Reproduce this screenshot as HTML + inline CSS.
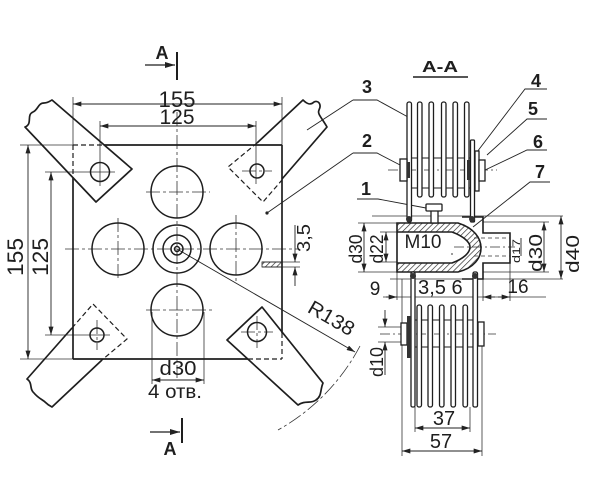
<!DOCTYPE html>
<html><head><meta charset="utf-8">
<style>
html,body{margin:0;padding:0;background:#fff;}
svg{display:block;}
text{font-family:"Liberation Sans","DejaVu Sans",sans-serif;fill:#1e1e1e;}
.b{font-weight:bold;}
</style></head><body>
<svg width="600" height="498" viewBox="0 0 600 498" xmlns="http://www.w3.org/2000/svg">
<defs>
<marker id="ar" viewBox="0 0 10 6" refX="10" refY="3" markerWidth="9" markerHeight="5" markerUnits="userSpaceOnUse" orient="auto-start-reverse"><path d="M0,0 L10,3 L0,6 z" fill="#222"/></marker>
<marker id="arb" viewBox="0 0 10 6" refX="10" refY="3" markerWidth="12" markerHeight="6" markerUnits="userSpaceOnUse" orient="auto-start-reverse"><path d="M0,0 L10,3 L0,6 z" fill="#222"/></marker>
<pattern id="hatch" width="4" height="4" patternUnits="userSpaceOnUse" patternTransform="rotate(45)"><line x1="0" y1="0" x2="0" y2="4" stroke="#222" stroke-width="1.3"/></pattern>
</defs>
<rect width="600" height="498" fill="#fff"/>

<!-- ================= LEFT VIEW ================= -->
<g fill="none" stroke="#333" stroke-width="0.8">
  <line x1="73" y1="97" x2="73" y2="145"/>
  <line x1="282" y1="97" x2="282" y2="145"/>
  <line x1="100" y1="121" x2="100" y2="186"/>
  <line x1="256" y1="121" x2="256" y2="184"/>
  <line x1="20" y1="145" x2="73" y2="145"/>
  <line x1="45" y1="172" x2="115" y2="172"/>
  <line x1="45" y1="335" x2="110" y2="335"/>
  <line x1="20" y1="359" x2="73" y2="359"/>
  <line x1="152" y1="312" x2="152" y2="384"/>
  <line x1="204" y1="312" x2="204" y2="384"/>
  <line x1="262" y1="262" x2="300" y2="262"/>
  <line x1="262" y1="267" x2="300" y2="267"/>
</g>
<g fill="none" stroke="#333" stroke-width="0.8" stroke-dasharray="14 3 3 3">
  <line x1="177" y1="112" x2="177" y2="378"/>
  <line x1="65" y1="249" x2="298" y2="249"/>
  <line x1="146" y1="192" x2="210" y2="192"/>
  <line x1="146" y1="310" x2="212" y2="310"/>
  <line x1="118" y1="218" x2="118" y2="281"/>
  <line x1="236" y1="215" x2="236" y2="284"/>
  <line x1="242" y1="171" x2="272" y2="171"/>
  <line x1="97" y1="320" x2="97" y2="350"/>
  <line x1="241" y1="332" x2="273" y2="332"/>
  <line x1="257" y1="316" x2="257" y2="348"/>
  <path d="M360,346 A207,207 0 0 1 278,430"/>
</g>

<g fill="none" stroke="#1e1e1e" stroke-width="1.7">
  <line x1="104" y1="145" x2="282" y2="145"/>
  <line x1="282" y1="145" x2="282" y2="333"/>
  <line x1="73" y1="178" x2="73" y2="359"/>
  <line x1="73" y1="359" x2="248" y2="359"/>
</g>
<g fill="none" stroke="#1e1e1e" stroke-width="1.2" stroke-dasharray="5 3">
  <line x1="73" y1="145" x2="104" y2="145"/>
  <line x1="73" y1="145" x2="73" y2="178"/>
  <line x1="282" y1="333" x2="282" y2="359"/>
  <line x1="248" y1="359" x2="282" y2="359"/>
  <path d="M257,143 L228,167 L263,202 L282,180"/>
  <path d="M72,328 L93,304 L127,339 L102,360"/>
</g>

<g fill="none" stroke="#1e1e1e" stroke-width="1.7" stroke-linejoin="round">
  <path d="M52,100 L132,169 L96,202 L25,127 C33,124 26,115 33,112 C38,110 38,103 44,103 C48,103 50,101 52,100 Z"/>
  <path d="M257,143 L303,100 C306,103 310,106 314,102 C318,100 322,104 319,110 C317,114 322,118 327,127 L282,179"/>
  <path d="M72,328 L27,379 C33,383 29,389 34,393 C38,398 43,400 45,402 C48,405 50,406 52,407 L102,360"/>
  <path d="M262,307 L323,383 C320,390 322,396 316,400 C311,404 305,400 298,405 L227,340 Z"/>
</g>

<g fill="none" stroke="#1e1e1e" stroke-width="1.5">
  <circle cx="100" cy="172" r="9.5"/>
  <circle cx="257" cy="171" r="7"/>
  <circle cx="97" cy="335" r="7"/>
  <circle cx="257" cy="332" r="9.5"/>
  <circle cx="177" cy="192" r="26"/>
  <circle cx="118" cy="249" r="26"/>
  <circle cx="236" cy="249" r="26"/>
  <circle cx="177" cy="310" r="26"/>
  <circle cx="177" cy="249" r="24"/>
  <circle cx="177" cy="249" r="14"/>
  <circle cx="177" cy="249" r="6"/>
  <circle cx="177" cy="249" r="2.5"/>
</g>
<rect x="262" y="262" width="20" height="5" fill="url(#hatch)" stroke="#222" stroke-width="0.8"/>

<g fill="none" stroke="#222" stroke-width="0.9">
  <line x1="73" y1="104" x2="282" y2="104" marker-start="url(#ar)" marker-end="url(#ar)"/>
  <line x1="100" y1="126" x2="256" y2="126" marker-start="url(#ar)" marker-end="url(#ar)"/>
  <line x1="28" y1="145" x2="28" y2="359" marker-start="url(#ar)" marker-end="url(#ar)"/>
  <line x1="51" y1="172" x2="51" y2="335" marker-start="url(#ar)" marker-end="url(#ar)"/>
  <line x1="152" y1="380" x2="204" y2="380" marker-start="url(#ar)" marker-end="url(#ar)"/>
  <line x1="295" y1="225" x2="295" y2="262" marker-end="url(#ar)"/>
  <line x1="295" y1="286" x2="295" y2="267" marker-end="url(#ar)"/>
  <line x1="177" y1="249" x2="355" y2="352" marker-end="url(#ar)"/>
  <line x1="307" y1="130" x2="353" y2="100"/>
  <line x1="267" y1="213" x2="353" y2="153"/>
</g>
<circle cx="267" cy="213" r="1.6" fill="#222"/>
<text x="177" y="107" font-size="22" text-anchor="middle" textLength="37" lengthAdjust="spacingAndGlyphs">155</text>
<text x="177" y="124" font-size="21" text-anchor="middle" textLength="35" lengthAdjust="spacingAndGlyphs">125</text>
<text transform="translate(23,257) rotate(-90)" font-size="22" text-anchor="middle" textLength="38" lengthAdjust="spacingAndGlyphs">155</text>
<text transform="translate(48,257) rotate(-90)" font-size="22" text-anchor="middle" textLength="38" lengthAdjust="spacingAndGlyphs">125</text>
<text x="178" y="375" font-size="20" text-anchor="middle" textLength="37" lengthAdjust="spacingAndGlyphs">d30</text>
<text x="175" y="398" font-size="19" text-anchor="middle" textLength="54" lengthAdjust="spacingAndGlyphs">4 отв.</text>
<text transform="translate(310,238) rotate(-90)" font-size="18" text-anchor="middle" textLength="28" lengthAdjust="spacingAndGlyphs">3,5</text>
<text transform="translate(328,324) rotate(30)" font-size="20" text-anchor="middle" textLength="50" lengthAdjust="spacingAndGlyphs">R138</text>

<g stroke="#1e1e1e" fill="none">
  <line x1="145" y1="65" x2="175" y2="65" stroke-width="1.2" marker-end="url(#arb)"/>
  <line x1="177" y1="52" x2="177" y2="80" stroke-width="2"/>
  <line x1="150" y1="432" x2="180" y2="432" stroke-width="1.2" marker-end="url(#arb)"/>
  <line x1="182" y1="418" x2="182" y2="443" stroke-width="2"/>
</g>
<text x="162" y="59" font-size="18" class="b" text-anchor="middle">A</text>
<text x="170" y="455" font-size="18" class="b" text-anchor="middle">A</text>

<!-- ================= RIGHT VIEW (A-A) ================= -->
<text x="440" y="72" font-size="16" class="b" text-anchor="middle" textLength="36" lengthAdjust="spacingAndGlyphs">A-A</text>
<line x1="413" y1="77" x2="468" y2="77" stroke="#1e1e1e" stroke-width="1.6"/>

<g font-size="18" class="b" text-anchor="middle">
  <text x="367" y="93" class="b">3</text>
  <text x="367" y="147" class="b">2</text>
  <text x="366" y="195" class="b">1</text>
  <text x="536" y="87" class="b">4</text>
  <text x="533" y="115" class="b">5</text>
  <text x="538" y="148" class="b">6</text>
  <text x="540" y="178" class="b">7</text>
</g>
<g fill="none" stroke="#222" stroke-width="0.9">
  <polyline points="353,100 377,100 408,117"/>
  <polyline points="353,153 377,153 402,166"/>
  <polyline points="357,199 378,199 426,208"/>
  <polyline points="547,89 525,89 477,152"/>
  <polyline points="547,119 527,119 487,155"/>
  <polyline points="547,150 527,150 483,171"/>
  <polyline points="550,182 530,182 473,227"/>
</g>

<g fill="none" stroke="#333" stroke-width="0.8" stroke-dasharray="10 3 2 3">
  <line x1="388" y1="170" x2="497" y2="170"/>
  <line x1="380" y1="334" x2="496" y2="334"/>
  <line x1="400" y1="247" x2="515" y2="247"/>
</g>

<g fill="none" stroke="#333" stroke-width="0.8">
  <line x1="372" y1="216" x2="563" y2="216"/>
  <line x1="390" y1="279" x2="563" y2="279"/>
  <line x1="483" y1="222" x2="549" y2="222"/>
  <line x1="483" y1="272" x2="549" y2="272"/>
  <line x1="358" y1="223" x2="397" y2="223"/>
  <line x1="358" y1="272" x2="397" y2="272"/>
  <line x1="380" y1="232" x2="397" y2="232"/>
  <line x1="380" y1="262" x2="397" y2="262"/>
  <line x1="397" y1="272" x2="397" y2="300"/>
  <line x1="483" y1="279" x2="483" y2="301"/>
  <line x1="510" y1="263" x2="510" y2="301"/>
  <line x1="402" y1="279" x2="402" y2="456"/>
  <line x1="482" y1="345" x2="482" y2="456"/>
  <line x1="415" y1="407" x2="415" y2="432"/>
  <line x1="470" y1="407" x2="470" y2="432"/>
  <line x1="378" y1="327" x2="402" y2="327"/>
  <line x1="378" y1="342" x2="402" y2="342"/>
  <line x1="383" y1="297" x2="546" y2="297"/>
</g>
<g fill="none" stroke="#222" stroke-width="0.9">
  <line x1="364" y1="223" x2="364" y2="272" marker-start="url(#ar)" marker-end="url(#ar)"/>
  <line x1="386" y1="232" x2="386" y2="262" marker-start="url(#ar)" marker-end="url(#ar)"/>
  <line x1="544" y1="222" x2="544" y2="272" marker-start="url(#ar)" marker-end="url(#ar)"/>
  <line x1="561" y1="216" x2="561" y2="279" marker-start="url(#ar)" marker-end="url(#ar)"/>
  <line x1="521" y1="238" x2="521" y2="256"/>
  <line x1="415" y1="428" x2="470" y2="428" marker-start="url(#ar)" marker-end="url(#ar)"/>
  <line x1="402" y1="451" x2="482" y2="451" marker-start="url(#ar)" marker-end="url(#ar)"/>
  <line x1="385" y1="310" x2="385" y2="327" marker-end="url(#ar)"/>
  <line x1="385" y1="375" x2="385" y2="342" marker-end="url(#ar)"/>
  <line x1="386" y1="297" x2="397" y2="297" marker-end="url(#ar)"/>
  <line x1="495" y1="297" x2="483" y2="297" marker-end="url(#ar)"/>
  <line x1="498" y1="297" x2="510" y2="297" marker-end="url(#ar)"/>
  <line x1="450" y1="240" x2="450" y2="254"/>
  <line x1="447" y1="254" x2="453" y2="254"/>
</g>

<path fill="url(#hatch)" fill-rule="evenodd" stroke="none"
  d="M397,223 H458 C474,228 481,238 481,248 C481,258 474,268 458,272 H397 Z M397,232 H452 C463,236 470,242 470,247 C470,253 463,259 452,263 H397 Z"/>
<rect x="399" y="233" width="52" height="28" fill="#fff"/>
<g fill="none" stroke="#1e1e1e" stroke-width="1.6">
  <path d="M397,223 H458 C474,228 481,238 481,248 C481,258 474,268 458,272 H397 Z"/>
  <path d="M397,232 H452 C463,236 470,242 470,247 C470,253 463,259 452,263 H397"/>
  <path d="M462,217 H483 V233 H510 V263 H483 V279 H462"/>
</g>
<g fill="none" stroke="#333" stroke-width="0.8" stroke-dasharray="4 3">
  <line x1="474" y1="238" x2="510" y2="238"/>
  <line x1="474" y1="256" x2="510" y2="256"/>
</g>
<text x="423" y="248" font-size="19" text-anchor="middle" textLength="37" lengthAdjust="spacingAndGlyphs">M10</text>

<g fill="#fff" stroke="#1e1e1e" stroke-width="1.3">
  <rect x="431" y="210" width="7" height="13"/>
  <rect x="426" y="204" width="16" height="7" rx="1"/>
</g>

<g fill="none" stroke="#1e1e1e" stroke-width="1.1">
  <line x1="411" y1="158" x2="470" y2="158"/>
  <line x1="411" y1="188" x2="470" y2="188"/>
</g>
<g fill="#fff" stroke="#1e1e1e" stroke-width="1.3">
  <rect x="407" y="102" width="4.5" height="120" rx="2"/>
  <rect x="417.5" y="102" width="4.5" height="95" rx="2"/>
  <rect x="429" y="102" width="4.5" height="95" rx="2"/>
  <rect x="441.5" y="102" width="4.5" height="95" rx="2"/>
  <rect x="453" y="102" width="4.5" height="95" rx="2"/>
  <rect x="464.5" y="102" width="4.5" height="95" rx="2"/>
  <rect x="470.5" y="140" width="4" height="82" rx="1"/>
  <rect x="400" y="159" width="7" height="22"/>
  <rect x="475" y="151" width="4" height="40"/>
  <rect x="479" y="160" width="6" height="21"/>
</g>
<g fill="#333">
  <ellipse cx="409" cy="219" rx="3" ry="3"/>
  <ellipse cx="472" cy="219" rx="3" ry="3"/>
  <rect x="407" y="162" width="3" height="16"/>
  <rect x="467" y="160" width="3" height="20"/>
</g>

<g fill="none" stroke="#1e1e1e" stroke-width="1.1">
  <line x1="415" y1="320" x2="473" y2="320"/>
  <line x1="415" y1="347" x2="473" y2="347"/>
</g>
<g fill="#fff" stroke="#1e1e1e" stroke-width="1.3">
  <rect x="411" y="272" width="4" height="135" rx="1.5"/>
  <rect x="417" y="305" width="4.5" height="102" rx="2"/>
  <rect x="428" y="305" width="4.5" height="102" rx="2"/>
  <rect x="439.5" y="305" width="4.5" height="102" rx="2"/>
  <rect x="451" y="305" width="4.5" height="102" rx="2"/>
  <rect x="463" y="305" width="4.5" height="102" rx="2"/>
  <rect x="473" y="272" width="4.5" height="135" rx="1.5"/>
  <rect x="401" y="323" width="6" height="22"/>
  <rect x="478" y="322" width="6" height="24"/>
</g>
<g fill="#333">
  <rect x="407" y="316" width="4" height="42"/>
  <ellipse cx="413" cy="276" rx="3" ry="3"/>
  <ellipse cx="475" cy="276" rx="3" ry="3"/>
</g>

<text transform="translate(362,249) rotate(-90)" font-size="18" text-anchor="middle" textLength="29" lengthAdjust="spacingAndGlyphs">d30</text>
<text transform="translate(383,249) rotate(-90)" font-size="18" text-anchor="middle" textLength="29" lengthAdjust="spacingAndGlyphs">d22</text>
<text transform="translate(520,251) rotate(-90)" font-size="11" text-anchor="middle" textLength="24" lengthAdjust="spacingAndGlyphs">d17</text>
<text transform="translate(542,253) rotate(-90)" font-size="18" text-anchor="middle" textLength="38" lengthAdjust="spacingAndGlyphs">d30</text>
<text transform="translate(579,254) rotate(-90)" font-size="18" text-anchor="middle" textLength="38" lengthAdjust="spacingAndGlyphs">d40</text>
<text transform="translate(383,362) rotate(-90)" font-size="18" text-anchor="middle" textLength="30" lengthAdjust="spacingAndGlyphs">d10</text>
<text x="375" y="295" font-size="19" text-anchor="middle">9</text>
<text x="432" y="294" font-size="20" text-anchor="middle" textLength="28" lengthAdjust="spacingAndGlyphs">3,5</text>
<text x="457" y="294" font-size="20" text-anchor="middle">6</text>
<text x="518" y="293" font-size="19" text-anchor="middle">16</text>
<text x="444" y="425" font-size="20" text-anchor="middle">37</text>
<text x="441" y="448" font-size="20" text-anchor="middle">57</text>
</svg>
</body></html>
